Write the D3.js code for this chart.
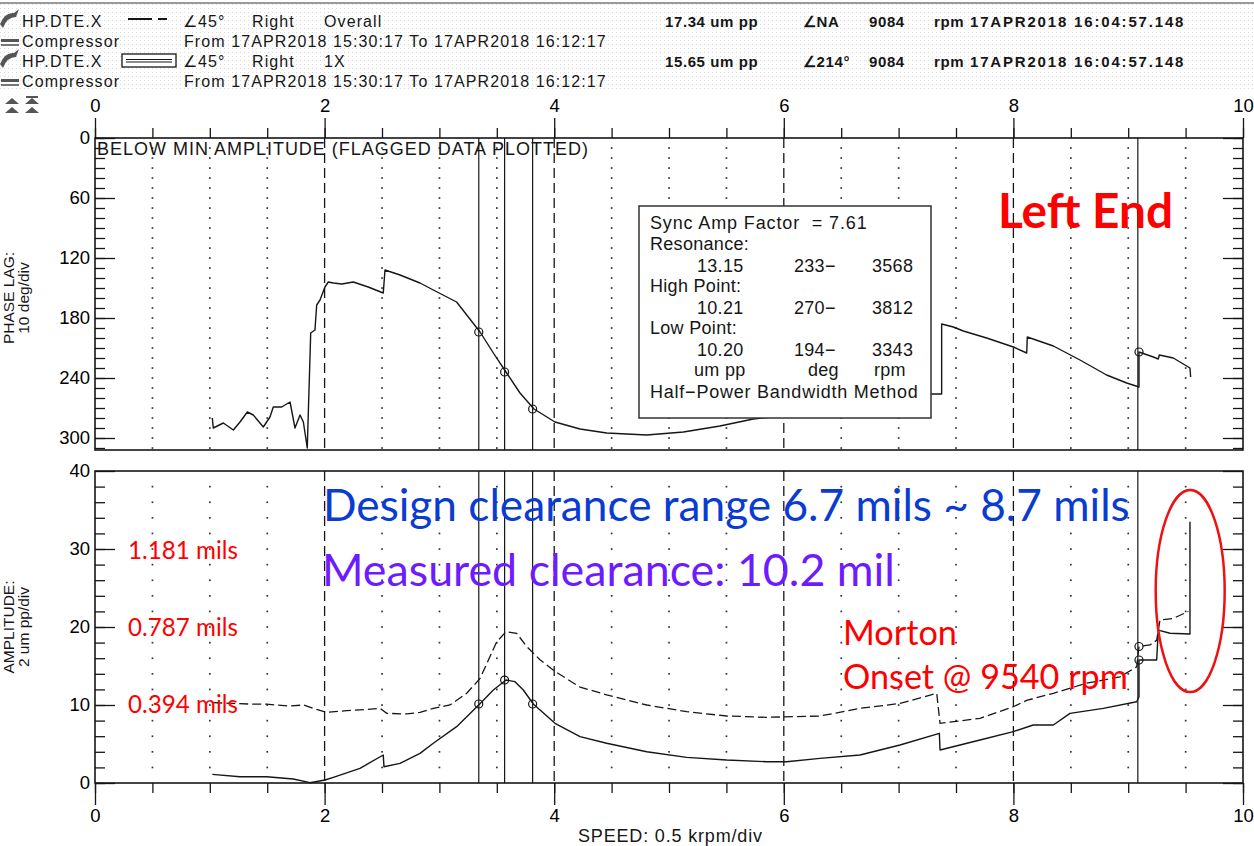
<!DOCTYPE html>
<html>
<head>
<meta charset="utf-8">
<script src="https://cdn.jsdelivr.net/npm/d3@7"></script>
<style>
  body { margin: 0; background: #fff; }
  svg { display: block; font-family: "Liberation Sans", Arial, sans-serif; }
</style>
</head>
<body>
<div id="chart"></div>
<script>
// ---- data ----
const speedTicks = [0, 2, 4, 6, 8, 10];
const phaseTicks = [0, 60, 120, 180, 240, 300];
const ampTicks = [0, 10, 20, 30, 40];

// 1X phase lag (deg) vs speed (krpm)
const phaseSpeed = [1.022, 1.03, 1.118, 1.205, 1.263, 1.327, 1.379, 1.466, 1.524, 1.553, 1.626, 1.699, 1.742, 1.786, 1.815, 1.849,
  1.879, 1.916, 1.931, 1.96, 2.003, 2.032, 2.076, 2.15, 2.25, 2.38, 2.511, 2.526, 2.657, 2.831, 2.947, 3.15, 3.354, 3.47, 3.58,
  3.702, 3.824, 4.007, 4.225, 4.457, 4.806, 5.125, 5.444, 5.734, 5.9, 6.5, 7.0, 7.288, 7.375, 7.375, 7.477, 7.564, 7.767, 8.0,
  8.116, 8.121, 8.348, 8.58, 8.812, 8.987, 9.094, 9.094, 9.219, 9.262, 9.271, 9.393, 9.538, 9.544];
const phaseDeg = [280, 290, 285, 292, 284, 274, 277, 289, 279, 269, 269, 264, 290, 277, 284, 310,
  195, 192, 167, 162, 149, 144, 145, 146, 144, 149, 155, 132, 137, 145, 152, 164, 194, 215, 234,
  255, 271, 284, 291, 295, 297, 294, 288, 281, 279, 266, 259, 256, 256, 186, 189, 193, 200, 209,
  215, 199, 208, 222, 237, 245, 249, 214, 219, 221, 217, 220, 230, 239];

// 1X amplitude (um pp)
const amp1xSpeed = [1.022, 1.263, 1.495, 1.727, 1.873, 2.003, 2.076, 2.308, 2.511, 2.517, 2.657, 2.831, 2.947, 3.15, 3.351,
  3.47, 3.58, 3.658, 3.731, 3.818, 4.007, 4.225, 4.457, 4.806, 5.154, 5.502, 5.851, 6.025, 6.315, 6.664, 7.012, 7.355, 7.361,
  7.709, 7.999, 8.173, 8.348, 8.493, 8.783, 9.074, 9.094, 9.094, 9.248, 9.262, 9.364, 9.538, 9.538];
const amp1x = [1.11, 0.81, 0.81, 0.51, 0.04, 0.38, 0.73, 1.88, 3.59, 2.09, 2.52, 3.8, 5.09, 7.22, 10.13,
  11.92, 13.2, 12.99, 11.92, 10.13, 7.65, 5.94, 5.09, 4.01, 3.29, 2.95, 2.73, 2.73, 3.16, 3.59, 4.87, 6.37, 4.23,
  5.51, 6.58, 7.44, 7.44, 8.93, 9.57, 10.42, 11.06, 15.77, 15.77, 19.6, 19.2, 19.1, 33.5];

// Overall amplitude (um pp)
const ampAllSpeed = [1.03, 1.205, 1.379, 1.495, 1.699, 1.815, 1.902, 2.018, 2.192, 2.367, 2.483, 2.541, 2.715, 2.831, 2.947,
  3.092, 3.238, 3.354, 3.499, 3.58, 3.673, 3.76, 3.876, 4.007, 4.225, 4.457, 4.806, 5.154, 5.502, 5.851, 6.315, 6.664, 7.012,
  7.332, 7.361, 7.709, 7.999, 8.116, 8.348, 8.638, 8.929, 9.074, 9.094, 9.19, 9.248, 9.277, 9.393, 9.524];
const ampAll = [10.3, 10.2, 10.1, 10.1, 9.87, 10.0, 9.57, 9.06, 9.27, 9.44, 9.57, 8.93, 8.85, 9.06, 9.57,
  10.0, 11.5, 13.4, 18.1, 19.4, 19.2, 17.5, 15.8, 14.3, 12.3, 11.3, 10.0, 9.14, 8.59, 8.42, 8.59, 9.57, 10.2,
  11.5, 7.65, 8.29, 9.78, 10.6, 11.5, 12.8, 13.6, 14.9, 17.5, 17.7, 18.3, 20.9, 21.1, 22.0];

// resonance / current-speed markers (rpm)
const markerRpm = [3343, 3568, 3812, 9084];
const phaseCircles = [[3.343, 194], [3.568, 234], [3.812, 271], [9.094, 214]];
const ampCircles = [[3.343, 10.13], [3.568, 13.2], [3.812, 10.13], [9.094, 15.77], [9.094, 17.5]];

// box table
const boxRows = [
  ['Resonance:', '13.15', '233−', '3568'],
  ['High Point:', '10.21', '270−', '3812'],
  ['Low Point:', '10.20', '194−', '3343']
];

// ---- setup ----
const W = 1254, H = 846;
const ink = '#161616';
const svg = d3.select('#chart').append('svg').attr('width', W).attr('height', H);

const x = d3.scaleLinear().domain([0, 10]).range([95, 1243]);
const yPhase = d3.scaleLinear().domain([0, 312]).range([138, 450]);
const yAmp = d3.scaleLinear().domain([0, 40]).range([783, 471]);

// Fit a text element to a given pixel width by scaling its font size
function fitWidth(sel, width) {
    const w = sel.node().getComputedTextLength();
    const fs = parseFloat(sel.attr('font-size'));
    sel.attr('font-size', (fs * width / w).toFixed(2));
    return sel;
}

// ---- header ----
const defs = svg.append('defs');
defs.append('pattern')
    .attr('id', 'stipple')
    .attr('width', 4).attr('height', 4)
    .attr('patternUnits', 'userSpaceOnUse')
    .append('rect').attr('width', 1).attr('height', 1).attr('fill', '#bdbdbd');

svg.append('rect').attr('x', 0).attr('y', 4).attr('width', W).attr('height', 88)
    .attr('fill', 'url(#stipple)').attr('opacity', 0.55);
svg.append('line').attr('x1', 0).attr('x2', W).attr('y1', 3).attr('y2', 3)
    .attr('stroke', '#9a9a9a').attr('stroke-width', 2);

const hdr = svg.append('g').attr('font-size', 16).attr('letter-spacing', 1.1).attr('fill', ink);
const hdrLeft = [
    ['HP.DTE.X', 22, 27], ['∠45°', 183, 27], ['Right', 252, 27], ['Overall', 324, 27],
    ['Compressor', 22, 47], ['From 17APR2018 15:30:17 To 17APR2018 16:12:17', 184, 47],
    ['HP.DTE.X', 22, 67], ['∠45°', 183, 67], ['Right', 252, 67], ['1X', 324, 67],
    ['Compressor', 22, 87], ['From 17APR2018 15:30:17 To 17APR2018 16:12:17', 184, 87]
];
hdr.selectAll('text.l').data(hdrLeft).join('text')
    .attr('x', d => d[1]).attr('y', d => d[2]).text(d => d[0]);

const hdrRight = [
    ['17.34 um pp', 665, 27], ['∠NA', 803, 27], ['9084', 869, 27], ['rpm', 934, 27],
    ['15.65 um pp', 665, 67], ['∠214°', 803, 67], ['9084', 869, 67], ['rpm', 934, 67]
];
hdr.selectAll('text.r').data(hdrRight).join('text')
    .attr('x', d => d[1]).attr('y', d => d[2])
    .attr('font-size', 15).attr('letter-spacing', 0.6).attr('font-weight', 'bold').text(d => d[0]);
[27, 67].forEach(yb => {
    hdr.append('text').attr('x', 970).attr('y', yb)
        .attr('font-size', 15).attr('letter-spacing', 0.6).attr('font-weight', 'bold')
        .attr('textLength', 214).attr('lengthAdjust', 'spacing')
        .text('17APR2018 16:04:57.148');
});

// legend glyphs: dashed (overall) and boxed double line (1X)
hdr.append('line').attr('x1', 128).attr('x2', 152).attr('y1', 19).attr('y2', 19).attr('stroke', ink).attr('stroke-width', 2);
hdr.append('line').attr('x1', 158).attr('x2', 167).attr('y1', 19).attr('y2', 19).attr('stroke', ink).attr('stroke-width', 2);
hdr.append('rect').attr('x', 122).attr('y', 54).attr('width', 54).attr('height', 13)
    .attr('fill', '#fff').attr('stroke', ink).attr('stroke-width', 1.3);
hdr.append('line').attr('x1', 126).attr('x2', 172).attr('y1', 59.5).attr('y2', 59.5).attr('stroke', ink).attr('stroke-width', 1.2);
hdr.append('line').attr('x1', 126).attr('x2', 172).attr('y1', 62).attr('y2', 62).attr('stroke', ink).attr('stroke-width', 1.2);

// little probe icons on the left
[0, 40].forEach(dy => {
    hdr.append('path').attr('d', `M0,${24 + dy} Q5,${12 + dy} 14,${13 + dy} L19,${9 + dy} L16,${17 + dy} Q7,${17 + dy} 3,${28 + dy} Z`)
        .attr('fill', '#555');
    hdr.append('rect').attr('x', 1).attr('y', 39 + dy).attr('width', 18).attr('height', 3).attr('fill', '#555');
    hdr.append('rect').attr('x', 1).attr('y', 44 + dy).attr('width', 18).attr('height', 2).attr('fill', '#777');
});
[[12, 104], [12, 113], [32, 104], [32, 113]].forEach(([cx, cy]) => {
    hdr.append('path').attr('d', `M${cx - 7},${cy} L${cx},${cy - 6} L${cx + 7},${cy} Z`).attr('fill', '#555');
});
hdr.append('rect').attr('x', 26).attr('y', 96).attr('width', 12).attr('height', 2).attr('fill', '#555');

// ---- panels ----
const minorX = d3.range(0.5, 10, 0.5).filter(v => v % 2 !== 0);
const majorX = [2, 4, 6, 8];

function drawGrid(yScale, yDots, y0, y1) {
    const g = svg.append('g');
    const dots = [];
    minorX.forEach(sx => yDots.forEach(v => dots.push([sx, v])));
    g.selectAll('rect').data(dots).join('rect')
        .attr('x', d => x(d[0]) - 0.8).attr('y', d => yScale(d[1]) - 0.8)
        .attr('width', 1.7).attr('height', 1.7).attr('fill', '#333');
    g.selectAll('line.major').data(majorX).join('line')
        .attr('x1', d => x(d)).attr('x2', d => x(d))
        .attr('y1', y0).attr('y2', y1)
        .attr('stroke', ink).attr('stroke-width', 1.3).attr('stroke-dasharray', '10,5');
    g.selectAll('line.marker').data(markerRpm).join('line')
        .attr('x1', d => x(d / 1000)).attr('x2', d => x(d / 1000))
        .attr('y1', y0).attr('y2', y1)
        .attr('stroke', ink).attr('stroke-width', 1.2);
}

function styleAxis(g) {
    g.select('.domain').remove();
    g.selectAll('line').attr('stroke', ink).attr('stroke-width', 1.3);
    g.selectAll('text').attr('fill', '#000').attr('font-size', 18.5)
        .attr('font-family', '"Liberation Sans", Arial, sans-serif');
}

function sideTicks(yScale, major, minor) {
    [[95, d3.axisRight], [1243, d3.axisLeft]].forEach(([px, ax]) => {
        svg.append('g').attr('transform', `translate(${px},0)`)
            .call(ax(yScale).tickValues(minor).tickSize(10).tickFormat(''))
            .call(styleAxis);
        svg.append('g').attr('transform', `translate(${px},0)`)
            .call(ax(yScale).tickValues(major).tickSize(20).tickFormat(''))
            .call(styleAxis);
    });
    svg.append('g').attr('transform', 'translate(95,0)')
        .call(d3.axisLeft(yScale).tickValues(major).tickSize(0).tickPadding(5))
        .call(styleAxis);
}

// top panel: phase
drawGrid(yPhase, d3.range(10, 312, 10), yPhase(0), yPhase(312));
sideTicks(yPhase, phaseTicks, d3.range(0, 312, 10));

svg.append('g').attr('transform', `translate(0,${yPhase(0)})`)
    .call(d3.axisTop(x).tickValues(d3.range(0, 10.01, 0.5)).tickSize(10).tickFormat(''))
    .call(styleAxis);
svg.append('g').attr('transform', `translate(0,${yPhase(0)})`)
    .call(d3.axisTop(x).tickValues(speedTicks).tickSize(20).tickPadding(6))
    .call(styleAxis);

svg.append('rect').attr('x', x(0)).attr('y', yPhase(0))
    .attr('width', x(10) - x(0)).attr('height', yPhase(312) - yPhase(0))
    .attr('fill', 'none').attr('stroke', ink).attr('stroke-width', 1.6);

svg.append('text').attr('x', 97).attr('y', 155).attr('font-size', 18).attr('fill', ink)
    .attr('textLength', 491).attr('lengthAdjust', 'spacing')
    .text('BELOW MIN AMPLITUDE (FLAGGED DATA PLOTTED)');

const linePhase = d3.line().x(d => x(d[0])).y(d => yPhase(d[1]));
svg.append('path').datum(d3.zip(phaseSpeed, phaseDeg))
    .attr('d', linePhase).attr('fill', 'none')
    .attr('stroke', ink).attr('stroke-width', 1.4).attr('stroke-linejoin', 'round');

svg.selectAll('circle.ph').data(phaseCircles).join('circle')
    .attr('cx', d => x(d[0])).attr('cy', d => yPhase(d[1])).attr('r', 4)
    .attr('fill', 'none').attr('stroke', ink).attr('stroke-width', 1.2);

// results box
const box = svg.append('g').attr('font-size', 18).attr('fill', ink).attr('letter-spacing', 0.3);
box.append('rect').attr('x', 639).attr('y', 206).attr('width', 292).attr('height', 212)
    .attr('fill', '#fff').attr('stroke', '#333').attr('stroke-width', 1.5);
box.append('text').attr('x', 650).attr('y', 229).attr('textLength', 217).attr('lengthAdjust', 'spacing')
    .text('Sync Amp Factor\u00a0\u00a0= 7.61');
boxRows.forEach((r, i) => {
    const yb = 250 + i * 42;
    box.append('text').attr('x', 650).attr('y', yb).text(r[0]);
    box.append('text').attr('x', 697).attr('y', yb + 22).text(r[1]);
    box.append('text').attr('x', 794).attr('y', yb + 22).text(r[2]);
    box.append('text').attr('x', 872).attr('y', yb + 22).text(r[3]);
});
box.append('text').attr('x', 694).attr('y', 376).text('um pp');
box.append('text').attr('x', 808).attr('y', 376).text('deg');
box.append('text').attr('x', 874).attr('y', 376).text('rpm');
box.append('text').attr('x', 650).attr('y', 398).attr('textLength', 268).attr('lengthAdjust', 'spacing')
    .text('Half−Power Bandwidth Method');

// bottom panel: amplitude
drawGrid(yAmp, d3.range(2, 40, 2), yAmp(40), yAmp(0));
sideTicks(yAmp, ampTicks, d3.range(0, 40, 2));

svg.append('g').attr('transform', `translate(0,${yAmp(0)})`)
    .call(d3.axisBottom(x).tickValues(d3.range(0, 10.01, 0.5)).tickSize(10).tickFormat(''))
    .call(styleAxis);
svg.append('g').attr('transform', `translate(0,${yAmp(0)})`)
    .call(d3.axisBottom(x).tickValues(speedTicks).tickSize(22).tickPadding(4))
    .call(styleAxis);

svg.append('rect').attr('x', x(0)).attr('y', yAmp(40))
    .attr('width', x(10) - x(0)).attr('height', yAmp(0) - yAmp(40))
    .attr('fill', 'none').attr('stroke', ink).attr('stroke-width', 1.6);

const lineAmp = d3.line().x(d => x(d[0])).y(d => yAmp(d[1]));
svg.append('path').datum(d3.zip(ampAllSpeed, ampAll))
    .attr('d', lineAmp).attr('fill', 'none')
    .attr('stroke', ink).attr('stroke-width', 1.3).attr('stroke-dasharray', '9,4');
svg.append('path').datum(d3.zip(amp1xSpeed, amp1x))
    .attr('d', lineAmp).attr('fill', 'none')
    .attr('stroke', ink).attr('stroke-width', 1.4).attr('stroke-linejoin', 'round');

svg.selectAll('circle.am').data(ampCircles).join('circle')
    .attr('cx', d => x(d[0])).attr('cy', d => yAmp(d[1])).attr('r', 4)
    .attr('fill', 'none').attr('stroke', ink).attr('stroke-width', 1.2);

// axis titles
function axisTitle(lines, cy) {
    lines.forEach((t, i) => {
        svg.append('text')
            .attr('transform', `translate(${14 + i * 15},${cy}) rotate(-90)`)
            .attr('text-anchor', 'middle').attr('font-size', 15.5).attr('fill', ink)
            .text(t);
    });
}
axisTitle(['PHASE LAG:', '10 deg/div'], 298);
axisTitle(['AMPLITUDE:', '2 um pp/div'], 627);

svg.append('text').attr('x', 578).attr('y', 842).attr('font-size', 18).attr('fill', ink)
    .attr('textLength', 184).attr('lengthAdjust', 'spacing')
    .text('SPEED: 0.5 krpm/div');

// ---- slide annotations ----
const ann = svg.append('g').attr('font-family', 'Lato, "Open Sans", sans-serif');
fitWidth(ann.append('text').attr('x', 998).attr('y', 228).attr('font-size', 40)
    .attr('font-weight', 'bold').attr('fill', '#ff0000').text('Left End'), 175);
fitWidth(ann.append('text').attr('x', 323).attr('y', 521).attr('font-size', 40)
    .attr('fill', '#0a3cd2').text('Design clearance range 6.7 mils ~ 8.7 mils'), 807);
fitWidth(ann.append('text').attr('x', 322).attr('y', 586).attr('font-size', 40)
    .attr('fill', '#6c1cff').text('Measured clearance: 10.2 mil'), 573);

const milsLabels = [['1.181 mils', 559], ['0.787 mils', 636], ['0.394 mils', 713]];
milsLabels.forEach(([t, yb]) => {
    fitWidth(ann.append('text').attr('x', 128).attr('y', yb).attr('font-size', 20)
        .attr('fill', '#ff0000').text(t), 110);
});
fitWidth(ann.append('text').attr('x', 843).attr('y', 645).attr('font-size', 30)
    .attr('fill', '#ff0000').text('Morton'), 114);
fitWidth(ann.append('text').attr('x', 843).attr('y', 689).attr('font-size', 30)
    .attr('fill', '#ff0000').text('Onset @ 9540 rpm'), 285);

ann.append('ellipse').attr('cx', x(9.54)).attr('cy', yAmp(24.6)).attr('rx', 34.5).attr('ry', 101)
    .attr('fill', 'none').attr('stroke', '#ee1111').attr('stroke-width', 2.5);
</script>
</body>
</html>
